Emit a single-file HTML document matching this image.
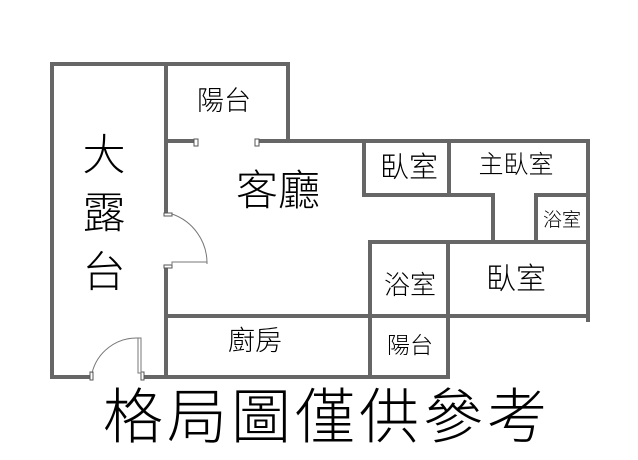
<!DOCTYPE html>
<html><head><meta charset="utf-8"><style>
html,body{margin:0;padding:0;background:#fff;width:638px;height:460px;overflow:hidden}
svg{display:block}
text{font-family:"Liberation Sans","Noto Sans CJK TC",sans-serif;fill:#000;font-weight:300}
</style></head><body>
<svg width="638" height="460" viewBox="0 0 638 460">
<g stroke="#666" stroke-width="4" fill="none" stroke-linecap="square">
<line x1="52" y1="64" x2="52" y2="377"/>
<line x1="52" y1="64" x2="288" y2="64"/>
<line x1="288" y1="64" x2="288" y2="141"/>
<line x1="166" y1="64" x2="166" y2="214"/>
<line x1="166" y1="267" x2="166" y2="377"/>
<line x1="166" y1="141" x2="196" y2="141"/>
<line x1="259" y1="141" x2="588" y2="141"/>
<line x1="588" y1="141" x2="588" y2="320"/>
<line x1="364" y1="141" x2="364" y2="195"/>
<line x1="364" y1="195" x2="493" y2="195"/>
<line x1="449" y1="141" x2="449" y2="195"/>
<line x1="493" y1="195" x2="493" y2="241"/>
<line x1="536" y1="195" x2="536" y2="241"/>
<line x1="536" y1="195" x2="588" y2="195"/>
<line x1="370" y1="242" x2="588" y2="242"/>
<line x1="370" y1="242" x2="370" y2="377"/>
<line x1="448" y1="242" x2="448" y2="377"/>
<line x1="166" y1="316" x2="588" y2="316"/>
<line x1="52" y1="377" x2="90" y2="377"/>
<line x1="144" y1="377" x2="448" y2="377"/>
</g>
<g stroke="#555" stroke-width="1" fill="#fff">
<rect x="194" y="139" width="4" height="7"/>
<rect x="255" y="139" width="4" height="7"/>
<rect x="164" y="213" width="8" height="3"/>
<rect x="164" y="265" width="8" height="3"/>
<rect x="90" y="372" width="3" height="8"/>
<rect x="141" y="372" width="3" height="8"/>
</g>
<g stroke="#777" stroke-width="1" fill="none">
<path d="M172 214 A52 52 0 0 1 207 263"/>
<polyline points="172,265 172,262 207,262 207,264"/>
<path d="M92 373 A46 46 0 0 1 138 338"/>
<polyline points="138,338 141,338 141,373 138,373 138,338"/>
</g>
<text x="224" y="110" font-size="27" text-anchor="middle">陽台</text>
<text x="104" y="170" font-size="43" text-anchor="middle">大</text>
<text x="104" y="228" font-size="43" text-anchor="middle">露</text>
<text x="104" y="287" font-size="43" text-anchor="middle">台</text>
<text x="278" y="205" font-size="42" text-anchor="middle">客廳</text>
<text x="409" y="177" font-size="29" text-anchor="middle">臥室</text>
<text x="516" y="173" font-size="25" text-anchor="middle">主臥室</text>
<text x="562" y="226" font-size="19" text-anchor="middle">浴室</text>
<text x="410" y="294" font-size="26" text-anchor="middle">浴室</text>
<text x="516" y="289" font-size="30" text-anchor="middle">臥室</text>
<text x="255" y="350" font-size="27" text-anchor="middle">廚房</text>
<text x="410" y="353" font-size="23" text-anchor="middle">陽台</text>
<text x="327" y="438" font-size="60" letter-spacing="4" text-anchor="middle">格局圖僅供參考</text>
</svg>
</body></html>
